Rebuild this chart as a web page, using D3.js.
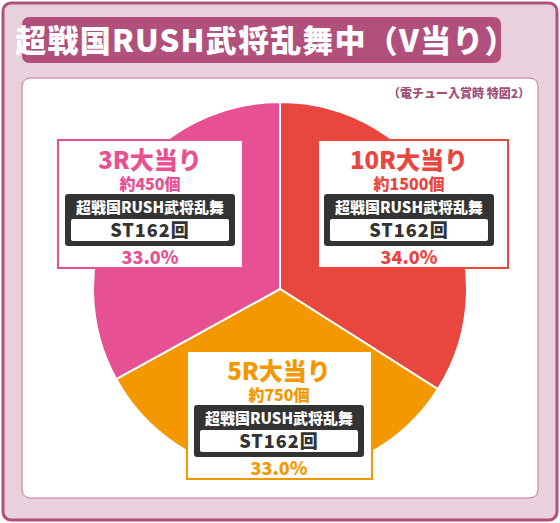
<!DOCTYPE html><html><head><meta charset="utf-8"><script src="https://cdn.jsdelivr.net/npm/d3@7"></script>
<style>body{margin:0}svg{display:block}text{font-family:"Noto Sans CJK JP",sans-serif;font-weight:900}</style></head><body>
<script>
const categories=["10R大当り","5R大当り","3R大当り"];
const counts=["約1500個","約750個","約450個"];
const values=[34.0,33.0,33.0];
const colors=["#e8463f","#f39800","#e85094"];
const boxPos=[[318,140],[187,351],[58,140]];
const W=560,H=523;
const svg=d3.select("body").append("svg").attr("width",W).attr("height",H);
svg.append("rect").attr("x",3).attr("y",3).attr("width",554).attr("height",517).attr("rx",8).attr("fill","#e9d0dd").attr("stroke","#b2507d").attr("stroke-width",3);
svg.append("rect").attr("x",22).attr("y",17).attr("width",479).attr("height",46).attr("rx",7).attr("fill","#b2507d");
svg.append("text").attr("x",266).attr("y",52).attr("text-anchor","middle").attr("fill","#fff").attr("font-size",31).attr("letter-spacing",1.2).text("超戦国RUSH武将乱舞中（V当り）");
svg.append("rect").attr("x",22).attr("y",78).attr("width",516).attr("height",420).attr("rx",8).attr("fill","#fff").attr("stroke","#c8709a").attr("stroke-width",1);
svg.append("text").attr("x",530).attr("y",98).attr("text-anchor","end").attr("fill","#a0507a").attr("font-size",12).text("（電チュー入賞時 特図2）");
const pie=d3.pie().sort(null).value(d=>d);
const arc=d3.arc().innerRadius(0).outerRadius(187);
const g=svg.append("g").attr("transform","translate(280,289)");
g.selectAll("path").data(pie(values)).join("path").attr("d",arc).attr("fill",(d,i)=>colors[i]).attr("stroke","#fff").attr("stroke-width",2);
categories.forEach((c,i)=>{
  const [x,y]=boxPos[i];const b=svg.append("g").attr("transform",`translate(${x},${y})`);
  const col=colors[i];
  b.append("rect").attr("width",i==0?190:185).attr("height",128).attr("fill","#fff").attr("stroke",col).attr("stroke-width",2);
  const cx=i==0?91:92;
  b.append("text").attr("x",cx).attr("y",29).attr("text-anchor","middle").attr("fill",col).attr("font-size",24).text(c);
  b.append("text").attr("x",cx).attr("y",50).attr("text-anchor","middle").attr("fill",col).attr("font-size",16).text(counts[i]);
  b.append("rect").attr("x",cx-85).attr("y",54).attr("width",170).attr("height",52).attr("rx",3).attr("fill","#333");
  b.append("text").attr("x",cx).attr("y",73).attr("text-anchor","middle").attr("fill","#fff").attr("font-size",15).text("超戦国RUSH武将乱舞");
  b.append("rect").attr("x",cx-79).attr("y",79).attr("width",158).attr("height",22).attr("rx",2).attr("fill","#fff");
  b.append("text").attr("x",cx).attr("y",97).attr("text-anchor","middle").attr("fill","#333").attr("font-size",18).attr("letter-spacing",1).text("ST162回");
  b.append("text").attr("x",cx).attr("y",124).attr("text-anchor","middle").attr("fill",col).attr("font-size",18).text(values[i].toFixed(1)+"%");
});
</script></body></html>
